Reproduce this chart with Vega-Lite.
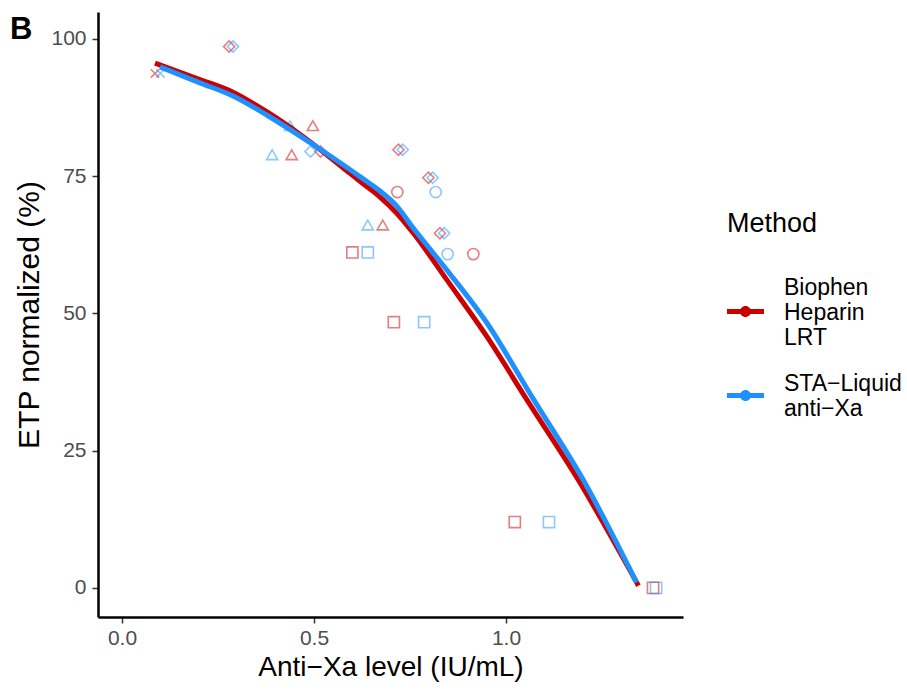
{
  "$schema": "https://vega.github.io/schema/vega-lite/v6.json",
  "width": 585,
  "height": 605,
  "autosize": {"type": "none"},
  "padding": {"left": 98, "top": 12, "right": 224, "bottom": 81},
  "background": "white",
  "title": {"text": "B", "anchor": "start", "frame": "group", "fontSize": 31, "fontWeight": "bold", "font": "Liberation Sans", "color": "black", "dx": -88, "dy": 34, "offset": 0},
  "config": {
    "view": {"stroke": null},
    "font": "Liberation Sans",
    "axis": {"grid": false, "domainColor": "black", "domainWidth": 2.5, "tickColor": "#333333", "tickWidth": 1.5, "tickSize": 6, "labelColor": "#4D4D4D", "labelFontSize": 21, "labelFont": "Liberation Sans", "titleFont": "Liberation Sans", "titleFontSize": 28, "titleFontWeight": "normal", "titleColor": "black"}
  },
  "datasets": {
    "points": [
      {"Method": "Biophen Heparin LRT", "Sample": "D", "AntiXa": 0.279, "ETP": 98.6},
      {"Method": "Biophen Heparin LRT", "Sample": "X", "AntiXa": 0.086, "ETP": 93.7},
      {"Method": "Biophen Heparin LRT", "Sample": "T", "AntiXa": 0.497, "ETP": 84.2},
      {"Method": "Biophen Heparin LRT", "Sample": "T", "AntiXa": 0.442, "ETP": 78.9},
      {"Method": "Biophen Heparin LRT", "Sample": "D", "AntiXa": 0.517, "ETP": 79.5},
      {"Method": "Biophen Heparin LRT", "Sample": "D", "AntiXa": 0.720, "ETP": 79.8},
      {"Method": "Biophen Heparin LRT", "Sample": "D", "AntiXa": 0.798, "ETP": 74.7},
      {"Method": "Biophen Heparin LRT", "Sample": "C", "AntiXa": 0.717, "ETP": 72.1},
      {"Method": "Biophen Heparin LRT", "Sample": "T", "AntiXa": 0.679, "ETP": 66.1},
      {"Method": "Biophen Heparin LRT", "Sample": "D", "AntiXa": 0.828, "ETP": 64.6},
      {"Method": "Biophen Heparin LRT", "Sample": "C", "AntiXa": 0.915, "ETP": 60.8},
      {"Method": "Biophen Heparin LRT", "Sample": "S", "AntiXa": 0.600, "ETP": 61.1},
      {"Method": "Biophen Heparin LRT", "Sample": "S", "AntiXa": 0.708, "ETP": 48.4},
      {"Method": "Biophen Heparin LRT", "Sample": "S", "AntiXa": 1.023, "ETP": 12.0},
      {"Method": "Biophen Heparin LRT", "Sample": "S", "AntiXa": 1.383, "ETP": 0.0},
      {"Method": "STA-Liquid anti-Xa", "Sample": "D", "AntiXa": 0.289, "ETP": 98.6},
      {"Method": "STA-Liquid anti-Xa", "Sample": "X", "AntiXa": 0.100, "ETP": 93.7},
      {"Method": "STA-Liquid anti-Xa", "Sample": "T", "AntiXa": 0.4375, "ETP": 84.2},
      {"Method": "STA-Liquid anti-Xa", "Sample": "T", "AntiXa": 0.391, "ETP": 78.9},
      {"Method": "STA-Liquid anti-Xa", "Sample": "D", "AntiXa": 0.491, "ETP": 79.5},
      {"Method": "STA-Liquid anti-Xa", "Sample": "D", "AntiXa": 0.731, "ETP": 79.8},
      {"Method": "STA-Liquid anti-Xa", "Sample": "D", "AntiXa": 0.809, "ETP": 74.7},
      {"Method": "STA-Liquid anti-Xa", "Sample": "C", "AntiXa": 0.817, "ETP": 72.1},
      {"Method": "STA-Liquid anti-Xa", "Sample": "T", "AntiXa": 0.640, "ETP": 66.1},
      {"Method": "STA-Liquid anti-Xa", "Sample": "D", "AntiXa": 0.839, "ETP": 64.6},
      {"Method": "STA-Liquid anti-Xa", "Sample": "C", "AntiXa": 0.848, "ETP": 60.8},
      {"Method": "STA-Liquid anti-Xa", "Sample": "S", "AntiXa": 0.640, "ETP": 61.1},
      {"Method": "STA-Liquid anti-Xa", "Sample": "S", "AntiXa": 0.787, "ETP": 48.4},
      {"Method": "STA-Liquid anti-Xa", "Sample": "S", "AntiXa": 1.112, "ETP": 12.0},
      {"Method": "STA-Liquid anti-Xa", "Sample": "S", "AntiXa": 1.391, "ETP": 0.0}
    ],
    "smooth": [
      {"Method": "Biophen Heparin LRT", "AntiXa": 0.086, "ETP": 95.6},
      {"Method": "Biophen Heparin LRT", "AntiXa": 0.203, "ETP": 92.6},
      {"Method": "Biophen Heparin LRT", "AntiXa": 0.289, "ETP": 90.3},
      {"Method": "Biophen Heparin LRT", "AntiXa": 0.380, "ETP": 86.6},
      {"Method": "Biophen Heparin LRT", "AntiXa": 0.464, "ETP": 82.6},
      {"Method": "Biophen Heparin LRT", "AntiXa": 0.594, "ETP": 75.5},
      {"Method": "Biophen Heparin LRT", "AntiXa": 0.628, "ETP": 73.6},
      {"Method": "Biophen Heparin LRT", "AntiXa": 0.672, "ETP": 71.2},
      {"Method": "Biophen Heparin LRT", "AntiXa": 0.715, "ETP": 68.3},
      {"Method": "Biophen Heparin LRT", "AntiXa": 0.759, "ETP": 64.6},
      {"Method": "Biophen Heparin LRT", "AntiXa": 0.846, "ETP": 56.1},
      {"Method": "Biophen Heparin LRT", "AntiXa": 0.950, "ETP": 45.8},
      {"Method": "Biophen Heparin LRT", "AntiXa": 1.055, "ETP": 34.2},
      {"Method": "Biophen Heparin LRT", "AntiXa": 1.188, "ETP": 19.7},
      {"Method": "Biophen Heparin LRT", "AntiXa": 1.345, "ETP": 0.4},
      {"Method": "STA-Liquid anti-Xa", "AntiXa": 0.099, "ETP": 94.9},
      {"Method": "STA-Liquid anti-Xa", "AntiXa": 0.203, "ETP": 92.0},
      {"Method": "STA-Liquid anti-Xa", "AntiXa": 0.289, "ETP": 89.6},
      {"Method": "STA-Liquid anti-Xa", "AntiXa": 0.380, "ETP": 86.0},
      {"Method": "STA-Liquid anti-Xa", "AntiXa": 0.464, "ETP": 82.3},
      {"Method": "STA-Liquid anti-Xa", "AntiXa": 0.550, "ETP": 78.3},
      {"Method": "STA-Liquid anti-Xa", "AntiXa": 0.628, "ETP": 74.5},
      {"Method": "STA-Liquid anti-Xa", "AntiXa": 0.672, "ETP": 72.3},
      {"Method": "STA-Liquid anti-Xa", "AntiXa": 0.715, "ETP": 69.6},
      {"Method": "STA-Liquid anti-Xa", "AntiXa": 0.759, "ETP": 65.5},
      {"Method": "STA-Liquid anti-Xa", "AntiXa": 0.846, "ETP": 57.9},
      {"Method": "STA-Liquid anti-Xa", "AntiXa": 0.950, "ETP": 48.3},
      {"Method": "STA-Liquid anti-Xa", "AntiXa": 1.073, "ETP": 34.2},
      {"Method": "STA-Liquid anti-Xa", "AntiXa": 1.201, "ETP": 19.7},
      {"Method": "STA-Liquid anti-Xa", "AntiXa": 1.340, "ETP": 1.0}
    ]
  },
  "layer": [
    {
      "data": {"name": "points"},
      "mark": {"type": "point", "filled": false, "opacity": 0.5, "strokeWidth": 1.6, "size": 125},
      "encoding": {
        "x": {"field": "AntiXa", "type": "quantitative", "scale": {"domain": [-0.0625, 1.461], "nice": false, "zero": false}, "axis": {"values": [0, 0.5, 1.0], "format": ".1f", "title": "Anti\u2212Xa level (IU/mL)", "labelPadding": 4, "titlePadding": 5}},
        "y": {"field": "ETP", "type": "quantitative", "scale": {"domain": [-5.3, 104.9], "nice": false, "zero": false}, "axis": {"values": [0, 25, 50, 75, 100], "title": "ETP normalized (%)", "titleFontSize": 30, "labelPadding": 6, "titlePadding": 6}},
        "color": {"field": "Method", "type": "nominal", "scale": {"domain": ["Biophen Heparin LRT", "STA-Liquid anti-Xa"], "range": ["#CC0000", "#1E90FF"]}},
        "shape": {"field": "Sample", "type": "nominal", "scale": {"domain": ["C", "T", "S", "X", "D"], "range": ["circle", "triangle-up", "square", "M-0.75,-0.75L0.75,0.75M-0.75,0.75L0.75,-0.75", "diamond"]}, "legend": null}
      }
    },
    {
      "data": {"name": "smooth"},
      "mark": {"type": "line", "strokeWidth": 5, "interpolate": "monotone"},
      "encoding": {
        "x": {"field": "AntiXa", "type": "quantitative"},
        "y": {"field": "ETP", "type": "quantitative"},
        "color": {
          "field": "Method", "type": "nominal",
          "legend": {
            "orient": "none", "legendX": 629, "legendY": 199,
            "title": "Method", "titleFontSize": 27, "titleFontWeight": "normal", "titleColor": "black", "titleFont": "Liberation Sans", "titlePadding": 55,
            "labelFontSize": 23, "labelColor": "black", "labelFont": "Liberation Sans", "labelLineHeight": 24, "labelOffset": 20, "labelLimit": 200,
            "labelExpr": "datum.label == 'Biophen Heparin LRT' ? ['Biophen', 'Heparin', 'LRT'] : ['STA\u2212Liquid', 'anti\u2212Xa']",
            "symbolType": "M-1,-0.135L1,-0.135L1,0.135L-1,0.135Z M-0.3,0A0.3,0.3 0 1,1 0.3,0A0.3,0.3 0 1,1 -0.3,0Z",
            "symbolSize": 1369, "symbolStrokeWidth": 0, "rowPadding": 22,
            "encode": {
              "symbols": {"update": {"fill": {"scale": "color", "field": "value"}, "strokeWidth": {"value": 0}, "opacity": {"value": 1}}},
              "labels": {"update": {"dy": {"signal": "datum.value == 'Biophen Heparin LRT' ? -24 : -12"}}}
            }
          }
        }
      }
    }
  ]
}
